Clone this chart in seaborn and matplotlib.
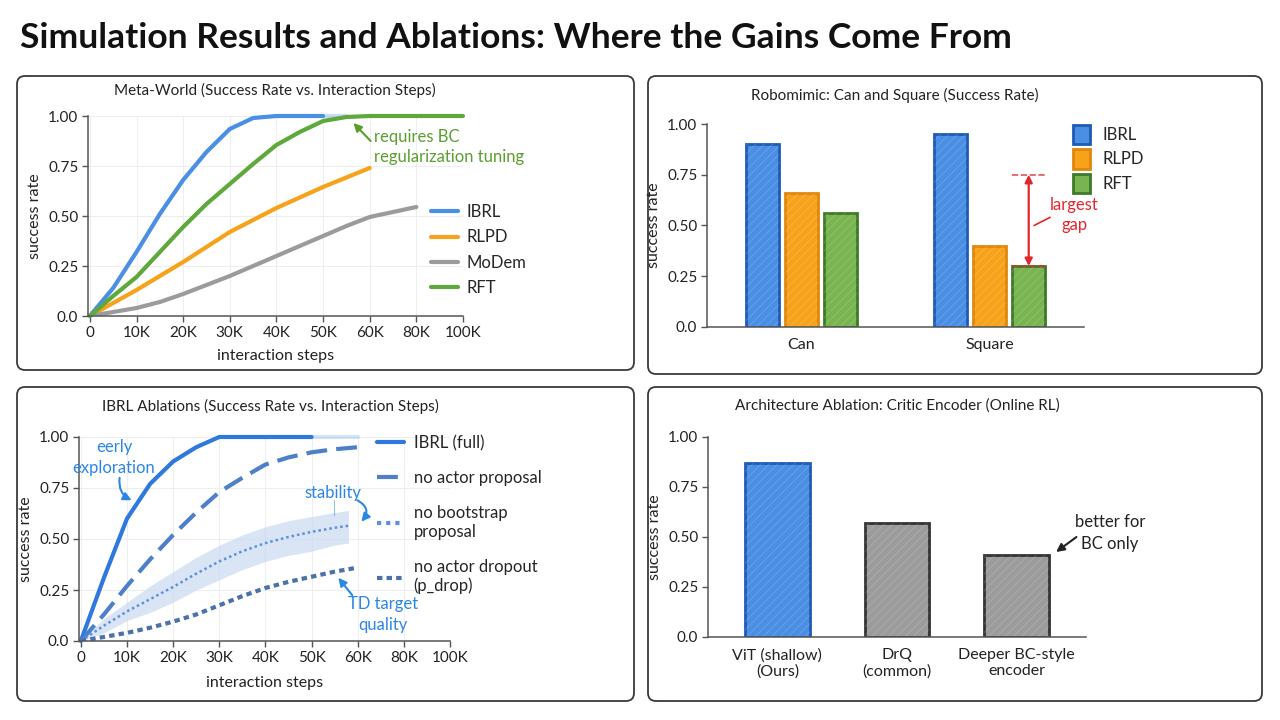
import matplotlib
matplotlib.use("Agg")
import matplotlib.pyplot as plt
import seaborn as sns
import pandas as pd
from matplotlib.patches import FancyBboxPatch, Patch, Rectangle

sns.set_theme(style="white")
plt.rcParams['font.family'] = ['Lato', 'DejaVu Sans']
plt.rcParams['hatch.linewidth'] = 0.8

# ---------------- data ----------------
# x positions are in thousands of steps along the drawn axis; the tick labels
# in the original jump from 60K to 80K to 100K at equal spacing
tick_pos = [0, 10, 20, 30, 40, 50, 60, 70, 80]
tick_labels = ["0", "10K", "20K", "30K", "40K", "50K", "60K", "80K", "100K"]

# Meta-World
mw_ibrl_x = [0, 5, 10, 15, 20, 25, 30, 35, 40, 45, 50, 55]
mw_ibrl_y = [0, 0.14, 0.32, 0.51, 0.68, 0.82, 0.935, 0.99, 1.0, 1.0, 1.0, 1.0]
mw_rlpd_x = [0, 10, 20, 30, 40, 50, 60]
mw_rlpd_y = [0, 0.13, 0.27, 0.42, 0.54, 0.645, 0.74]
mw_modem_x = [0, 5, 10, 15, 20, 25, 30, 35, 40, 45, 50, 55, 60, 65, 70]
mw_modem_y = [0, 0.02, 0.04, 0.07, 0.11, 0.155, 0.20, 0.25, 0.30, 0.35, 0.40, 0.45, 0.495, 0.52, 0.545]
mw_rft_x = [0, 5, 10, 15, 20, 25, 30, 35, 40, 45, 50, 55, 60, 70, 80]
mw_rft_y = [0, 0.10, 0.195, 0.32, 0.445, 0.56, 0.66, 0.76, 0.855, 0.92, 0.975, 0.995, 1.0, 1.0, 1.0]

# Robomimic
rm_tasks = ["Can", "Square"]
rm_methods = ["IBRL", "RLPD", "RFT"]
rm_ibrl = [0.90, 0.95]
rm_rlpd = [0.66, 0.40]
rm_rft = [0.56, 0.30]
rm_gap_top = 0.75

# IBRL ablations
ab_x = [0, 5, 10, 15, 20, 25, 30, 35, 40, 45, 50, 55, 60]
ab_full = [0, 0.31, 0.60, 0.77, 0.88, 0.95, 1.0, 1.0, 1.0, 1.0, 1.0, 1.0, 1.0]
ab_no_actor = [0, 0.13, 0.27, 0.40, 0.52, 0.63, 0.73, 0.80, 0.865, 0.90, 0.925, 0.94, 0.95]
ab_boot_x = [0, 5, 10, 15, 20, 25, 30, 35, 40, 45, 50, 55, 58]
ab_no_boot = [0, 0.075, 0.145, 0.205, 0.265, 0.33, 0.39, 0.44, 0.48, 0.51, 0.535, 0.555, 0.565]
ab_boot_lo = [0, 0.04, 0.10, 0.14, 0.19, 0.25, 0.30, 0.35, 0.39, 0.42, 0.44, 0.47, 0.48]
ab_boot_hi = [0, 0.11, 0.19, 0.27, 0.34, 0.41, 0.47, 0.52, 0.56, 0.59, 0.61, 0.63, 0.64]
ab_no_drop = [0, 0.02, 0.04, 0.065, 0.095, 0.13, 0.175, 0.22, 0.26, 0.29, 0.315, 0.34, 0.36]

# Architecture ablation
enc_names = ["ViT (shallow)\n(Ours)", "DrQ\n(common)", "Deeper BC-style\nencoder"]
enc_rates = [0.87, 0.57, 0.41]

# ---------------- style ----------------
BLUE, ORANGE, GRAY, GREEN = "#4a8fe3", "#f7a21b", "#9b9b9b", "#5fa83b"
INK = "#222222"
yt = [0, 0.25, 0.5, 0.75, 1.0]
ytl = ["0.0", "0.25", "0.50", "0.75", "1.00"]


def style_axes(ax, grid=False):
    ax.set_facecolor("none")
    sns.despine(ax=ax)
    for s in ("left", "bottom"):
        ax.spines[s].set_color("#555555")
        ax.spines[s].set_linewidth(1.1)
    ax.tick_params(left=True, bottom=True, length=4, width=1, color="#555555",
                   labelsize=11, labelcolor=INK, pad=3)
    ax.set_ylim(0, 1.0)
    ax.set_yticks(yt)
    ax.set_yticklabels(ytl)
    ax.set_ylabel("success rate", fontsize=11.5, color=INK)
    if grid:
        ax.grid(True, color="#eeeeee", lw=0.8)
        ax.set_axisbelow(True)


def sketch_bars(ax, edges):
    # thin light diagonal strokes over each bar, like the pencil fill
    for p, ec in zip(ax.patches, edges):
        p.set_edgecolor(ec)
        p.set_linewidth(2)
        ax.add_patch(Rectangle((p.get_x(), p.get_y()), p.get_width(), p.get_height(),
                               fill=False, hatch="////", edgecolor=(1, 1, 1, 0.14), lw=0,
                               zorder=p.get_zorder() + 0.1))


def arrow(ax, start, end, color, rad=0.0):
    ax.annotate("", xy=end, xytext=start,
                arrowprops=dict(arrowstyle="-|>", color=color, lw=1.5, shrinkA=0, shrinkB=0,
                                mutation_scale=12, connectionstyle=f"arc3,rad={rad}"))


fig = plt.figure(figsize=(12.8, 7.2), dpi=100)
fig.patch.set_facecolor("white")

# panel frames (inches)
for (x0, y0, w, h) in [(0.17, 3.50, 6.17, 2.94), (6.48, 3.46, 6.14, 2.98),
                       (0.17, 0.19, 6.17, 3.14), (6.48, 0.19, 6.14, 3.14)]:
    fig.add_artist(FancyBboxPatch((x0, y0), w, h, boxstyle="round,pad=0,rounding_size=0.08",
                                  transform=fig.dpi_scale_trans, facecolor="white",
                                  edgecolor="#3a3a3a", lw=1.3, zorder=0))

fig.text(20 / 1280, 1 - 38 / 720, "Simulation Results and Ablations: Where the Gains Come From",
         fontsize=25.5, fontweight="bold", ha="left", va="center", color="#111111")

ax1 = fig.add_axes([88 / 1280, 1 - 316 / 720, 375 / 1280, 200 / 720])
ax2 = fig.add_axes([707 / 1280, 1 - 327 / 720, 377 / 1280, 203 / 720])
ax3 = fig.add_axes([79 / 1280, 1 - 641 / 720, 371 / 1280, 204 / 720])
ax4 = fig.add_axes([708 / 1280, 1 - 637 / 720, 378 / 1280, 200 / 720])

# ---------------- panel 1: Meta-World ----------------
lw = 3
sns.lineplot(x=mw_ibrl_x[:11], y=mw_ibrl_y[:11], ax=ax1, color=BLUE, lw=lw, label="IBRL", clip_on=False)
sns.lineplot(x=mw_ibrl_x[10:], y=mw_ibrl_y[10:], ax=ax1, color=BLUE, lw=lw, alpha=0.3, clip_on=False)
sns.lineplot(x=mw_rlpd_x, y=mw_rlpd_y, ax=ax1, color=ORANGE, lw=lw, label="RLPD")
sns.lineplot(x=mw_modem_x, y=mw_modem_y, ax=ax1, color=GRAY, lw=lw, label="MoDem")
sns.lineplot(x=mw_rft_x, y=mw_rft_y, ax=ax1, color=GREEN, lw=lw, label="RFT", clip_on=False)
style_axes(ax1, grid=True)
ax1.set_xlim(-0.4, 80)
ax1.set_xticks(tick_pos)
ax1.set_xticklabels(tick_labels)
ax1.set_xlabel("interaction steps", fontsize=11.5, color=INK, labelpad=7)
ax1.legend(loc="center left", bbox_to_anchor=(416 / 1280, 1 - 250 / 720),
           bbox_transform=fig.transFigure, frameon=False, fontsize=12,
           handlelength=1.6, labelspacing=0.55, handletextpad=0.5)
ax1.text(61, 0.845, "requires BC\nregularization tuning", fontsize=12, color="#5a9e2f",
         ha="left", va="center", linespacing=1.3)
arrow(ax1, (60.2, 0.875), (56.5, 0.965), "#5a9e2f")
fig.text(275 / 1280, 1 - 90 / 720, "Meta-World (Success Rate vs. Interaction Steps)",
         fontsize=11, ha="center", va="center", color=INK)

# ---------------- panel 2: Robomimic ----------------
rm_df = pd.DataFrame({
    "task": rm_tasks * 3,
    "method": [m for m in rm_methods for _ in rm_tasks],
    "rate": rm_ibrl + rm_rlpd + rm_rft,
})
rm_fill = {"IBRL": BLUE, "RLPD": ORANGE, "RFT": "#78b44f"}
rm_edge = ["#1f5bb5", "#e0870c", "#3d7a28"]
sns.barplot(data=rm_df, x="task", y="rate", hue="method", palette=rm_fill, ax=ax2,
            width=0.62, gap=0.15, saturation=1, legend=False)
sketch_bars(ax2, [e for e in rm_edge for _ in rm_tasks])
style_axes(ax2)
ax2.set_xlim(-0.5, 1.5)
ax2.set_xlabel("")
ax2.tick_params(axis="x", length=0, labelsize=11.5, pad=8)
ax2.legend(handles=[Patch(facecolor=rm_fill[m], edgecolor=e, lw=2, label=m)
                    for m, e in zip(rm_methods, rm_edge)],
           loc="upper left", bbox_to_anchor=(1058 / 1280, 1 - 110 / 720),
           bbox_transform=fig.transFigure, frameon=False, fontsize=12,
           handlelength=1.0, handleheight=1.4, labelspacing=0.3, handletextpad=0.8)

RED = "#e3262e"
bar = ax2.containers[2][1]
bx0, bw = bar.get_x(), bar.get_width()
bxc = bx0 + bw / 2
ax2.plot([bx0, bx0 + bw], [rm_gap_top] * 2, ls="--", color=RED, lw=1.2, alpha=0.8)
ax2.plot([bx0, bx0 + bw], [rm_rft[1]] * 2, ls="--", color=RED, lw=1.2, alpha=0.8, zorder=5)
ax2.annotate("", xy=(bxc, rm_gap_top), xytext=(bxc, rm_rft[1]),
             arrowprops=dict(arrowstyle="<|-|>", color=RED, lw=1.6, shrinkA=0, shrinkB=0,
                             mutation_scale=11))
ax2.text(1.45, 0.55, "largest\ngap", color=RED, fontsize=12, ha="center", va="center",
         linespacing=1.3)
ax2.plot([1.32, 1.235], [0.54, 0.50], color=RED, lw=1.2)
fig.text(895 / 1280, 1 - 95 / 720, "Robomimic: Can and Square (Success Rate)",
         fontsize=11, ha="center", va="center", color=INK)

# ---------------- panel 3: IBRL ablations ----------------
AB1, AB2, AB3, AB4 = "#2f78dd", "#4d80c8", "#5a90de", "#4b70aa"
ax3.fill_between(ab_boot_x, ab_boot_lo, ab_boot_hi, color="#c9daf2", alpha=0.7, lw=0)
sns.lineplot(x=ab_x[:11], y=ab_full[:11], ax=ax3, color=AB1, lw=3, label="IBRL (full)", clip_on=False)
sns.lineplot(x=ab_x[10:], y=ab_full[10:], ax=ax3, color=AB1, lw=3, alpha=0.2, clip_on=False)
sns.lineplot(x=ab_x, y=ab_no_actor, ax=ax3, color=AB2, lw=3, linestyle=(0, (5, 2.2)),
             label="no actor proposal")
sns.lineplot(x=ab_boot_x, y=ab_no_boot, ax=ax3, color=AB3, lw=1.8, linestyle=(0, (1, 1.2)),
             label="no bootstrap\nproposal")
sns.lineplot(x=ab_x, y=ab_no_drop, ax=ax3, color=AB4, lw=3, linestyle=(0, (1.3, 1)),
             label="no actor dropout\n(p_drop)")
style_axes(ax3, grid=True)
ax3.set_xlim(-0.4, 80)
ax3.set_xticks(tick_pos)
ax3.set_xticklabels(tick_labels)
ax3.set_xlabel("interaction steps", fontsize=11.5, color=INK, labelpad=8)
leg = ax3.legend(loc="upper left", bbox_to_anchor=(362 / 1280, 1 - 420 / 720),
                 bbox_transform=fig.transFigure, frameon=False, fontsize=12,
                 handlelength=1.6, labelspacing=1.15, handletextpad=0.6)
for h in leg.get_lines():
    h.set_linewidth(3)
    h.set_alpha(1)
ANN = "#2b86e6"
ax3.text(7.2, 0.90, "eerly\nexploration", fontsize=12, color=ANN, ha="center", va="center",
         linespacing=1.4)
arrow(ax3, (8.4, 0.80), (11, 0.69), ANN, rad=0.35)
ax3.text(54.7, 0.725, "stability", fontsize=12, color=ANN, ha="center", va="center")
arrow(ax3, (59.9, 0.69), (60.8, 0.585), ANN, rad=-0.6)
ax3.plot([54.8, 54.8], [0.62, 0.69], color=ANN, lw=0.8, alpha=0.5)
ax3.text(65.5, 0.13, "TD target\nquality", fontsize=12, color=ANN, ha="center", va="center",
         linespacing=1.4)
arrow(ax3, (58.8, 0.225), (55.8, 0.31), ANN)
fig.text(270 / 1280, 1 - 406 / 720, "IBRL Ablations (Success Rate vs. Interaction Steps)",
         fontsize=11, ha="center", va="center", color=INK)

# ---------------- panel 4: architecture ablation ----------------
sns.barplot(x=enc_names, y=enc_rates, hue=enc_names, palette=[BLUE, GRAY, GRAY], ax=ax4,
            width=0.54, saturation=1, legend=False)
sketch_bars(ax4, ["#1f5bb5", "#333333", "#333333"])
style_axes(ax4)
ax4.set_xlim(-0.58, 2.58)
ax4.tick_params(axis="x", length=0, labelsize=11.5, pad=8)
ax4.text(2.78, 0.52, "better for\nBC only", fontsize=12, color=INK, ha="center", va="center",
         linespacing=1.4)
arrow(ax4, (2.5, 0.50), (2.33, 0.425), INK)
fig.text(897 / 1280, 1 - 406 / 720, "Architecture Ablation: Critic Encoder (Online RL)",
         fontsize=11, ha="center", va="center", color=INK)

fig.savefig("out.png", dpi=100)
